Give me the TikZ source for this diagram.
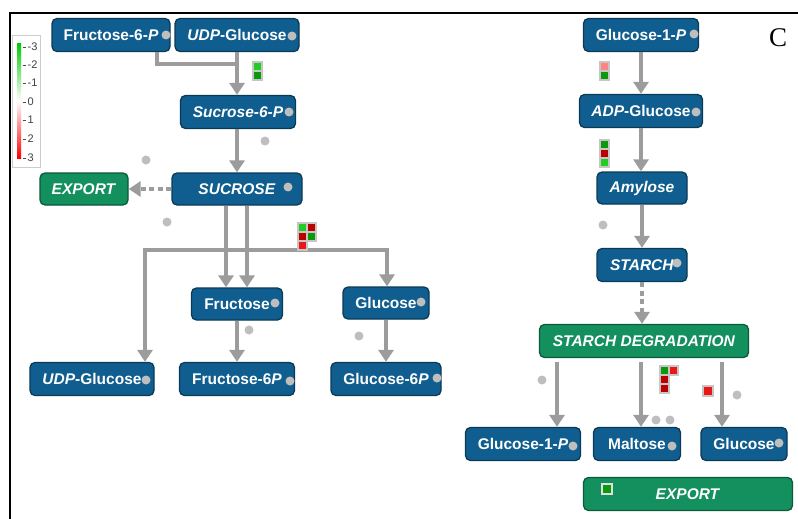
\documentclass[tikz,border=0pt]{standalone}
\usepackage{fontspec}
\newfontfamily\lib{Liberation Sans}
\setmainfont{Liberation Serif}
\usetikzlibrary{arrows.meta}
\definecolor{nblue}{HTML}{0F5E8F}
\definecolor{nblueb}{HTML}{0B3A57}
\definecolor{ngreen}{HTML}{13905E}
\definecolor{ngreenb}{HTML}{0B5A3A}
\definecolor{lgray}{HTML}{9C9C9C}
\definecolor{dgray}{HTML}{BEBEBE}
\definecolor{hgA}{HTML}{22CC22}
\definecolor{hgB}{HTML}{0A990A}
\definecolor{hrA}{HTML}{EE1515}
\definecolor{hrB}{HTML}{BB0000}
\definecolor{hpk}{HTML}{FF8585}
\tikzset{
  met/.style={draw=nblueb, fill=nblue, line width=1.3pt, rounded corners=5pt, inner sep=0pt,
    text=white, font=\lib\bfseries\fontsize{15.5}{18}\selectfont, minimum height=33pt},
  grn/.style={met, draw=ngreenb, fill=ngreen},
  ln/.style={draw=lgray, line width=4.5pt},
  arr/.style={ln, -{Triangle[length=12pt,width=15pt,fill=lgray]}},
  dsh/.style={arr, dash pattern=on 5pt off 3.5pt},
  dotc/.style={circle, fill=dgray, inner sep=0pt, minimum size=9pt},
  hm/.style={fill=#1, draw=gray!45, line width=1.3pt},
  lab/.style={font=\lib\fontsize{11}{13}\selectfont, text=black!75, anchor=west, inner sep=0pt}
}
\begin{document}
\begin{tikzpicture}[x=1pt,y=-1pt]
\useasboundingbox (0,0) rectangle (798,519);
\fill[white] (0,0) rectangle (798,519);
% frame
\draw[line width=2.5pt] (10,519) -- (10,13) -- (798,13);
\node[font=\fontsize{27}{30}\selectfont] (C) at (778,38) {C};
% legend
\draw[gray!40, line width=0.8pt] (12,35) rectangle (40,167);
\shade[top color=green!80!black, bottom color=white] (17,44) rectangle (21,101);
\shade[top color=white, bottom color=red] (17,101) rectangle (21,158);
\foreach \yy/\tt in {47/-3,65/-2,83/-1,102/0,120/1,139/2,158/3}{
  \draw[black!70, line width=0.8pt] (22.5,\yy) -- (25.5,\yy);
  \node[lab] at (27.5,\yy) {\tt};
}
% left nodes
\node[met, minimum width=118pt] (f6pa) at (111,35) {Fructose-6-\textit{P}\hspace{6pt}};
\node[met, minimum width=124pt] (udpa) at (237,35) {\textit{UDP}-Glucose\hspace{6pt}};
\node[met, minimum width=115pt] (s6p) at (238,112) {\textit{Sucrose-6-P}\hspace{6pt}};
\node[met, minimum width=130pt, minimum height=32pt] (suc) at (237,189) {\textit{SUCROSE}\hspace{12pt}};
\node[grn, minimum width=88pt, minimum height=32pt] (exl) at (84,189) {\textit{EXPORT}};
\node[met, minimum width=91pt, minimum height=32pt] (fru) at (237,304) {Fructose\hspace{5pt}};
\node[met, minimum width=86pt, minimum height=32pt] (glcl) at (386,303) {Glucose\hspace{5pt}};
\node[met, minimum width=124pt] (udpb) at (92,379) {\textit{UDP}-Glucose\hspace{6pt}};
\node[met, minimum width=115pt] (f6pb) at (237,379) {Fructose-6\textit{P}\hspace{8pt}};
\node[met, minimum width=110pt] (g6p) at (386,379) {Glucose-6\textit{P}\hspace{8pt}};
% right nodes
\node[met, minimum width=115pt] (g1pa) at (641,35) {Glucose-1-\textit{P}\hspace{6pt}};
\node[met, minimum width=123pt] (adp) at (641,111) {\textit{ADP}-Glucose\hspace{6pt}};
\node[met, minimum width=90pt, minimum height=32pt] (amy) at (642,188) {\textit{Amylose}};
\node[met, minimum width=90pt] (sta) at (642,265) {\textit{STARCH}\hspace{4pt}};
\node[grn, minimum width=209pt] (sd) at (644,341) {\textit{STARCH DEGRADATION}};
\node[met, minimum width=115pt] (g1pb) at (523,444) {Glucose-1-\textit{P}\hspace{6pt}};
\node[met, minimum width=87pt] (mal) at (637,444) {Maltose\hspace{10pt}};
\node[met, minimum width=86pt] (glcr) at (744,444) {Glucose\hspace{5pt}};
\node[grn, minimum width=209pt] (exr) at (688,494) {\textit{EXPORT}};
% connectors left
\coordinate (jf) at (157,64);
\draw[ln] (f6pa.south -| jf) -- (jf) -- (jf -| udpa.south);
\draw[arr] (udpa.south) -- (s6p.north -| udpa.south);
\draw[arr] (s6p.south -| suc.north) -- (suc.north);
\draw[dsh] (suc.west) -- (exl.east);
\coordinate (ja) at (145,250);
\coordinate (jb) at (387,250);
\draw[ln] (ja) -- (jb);
\draw[arr] ([yshift=2.25pt]ja) -- (udpb.north -| ja);
\draw[arr] ([yshift=2.25pt]jb) -- (glcl.north -| jb);
\draw[arr] ([xshift=-11pt]suc.south) -- ([xshift=-11pt]fru.north);
\draw[arr] ([xshift=10pt]suc.south) -- ([xshift=10pt]fru.north);
\draw[arr] (fru.south) -- (f6pb.north -| fru.south);
\draw[arr] (glcl.south) -- (g6p.north -| glcl.south);
% connectors right
\draw[arr] (g1pa.south) -- (adp.north -| g1pa.south);
\draw[arr] (adp.south) -- (amy.north -| adp.south);
\draw[arr] (amy.south) -- (sta.north);
\draw[dsh] (sta.south) -- (sd.north -| sta.south);
\coordinate (s1) at (557,362);
\coordinate (s2) at (641,362);
\coordinate (s3) at (722,362);
\draw[arr] (s1) -- (g1pb.north -| s1);
\draw[arr] (s2) -- (mal.north -| s2);
\draw[arr] (s3) -- (glcr.north -| s3);
% dots in nodes
\foreach \p in {(166,35),(292,36),(289,112),(288,187),(275,303),(421,302),(146,380),(290,381),(437,378),
  (694,34),(696,112),(677,263),(573,446),(672,446),(779,443)}{\node[dotc] at \p {};}
% free dots
\foreach \p in {(265,141),(146,160),(167,222),(249,330),(359,336),(603,225),(542,380),(656,420),(670,420),(737,395)}{\node[dotc] at \p {};}
% heat maps
\draw[hm=hgA] (253,62) rectangle ++(9,9);
\draw[hm=hgB] (253,71) rectangle ++(9,9);
\draw[hm=hgA] (298,223) rectangle ++(9,9);
\draw[hm=hrB] (307,223) rectangle ++(9,9);
\draw[hm=hrB] (298,232) rectangle ++(9,9);
\draw[hm=hgB] (307,232) rectangle ++(9,9);
\draw[hm=hrA] (298,241) rectangle ++(9,9);
\draw[hm=hpk] (600,62) rectangle ++(9,9);
\draw[hm=hgB] (600,71) rectangle ++(9,9);
\draw[hm=hgB] (600,140) rectangle ++(9,9);
\draw[hm=hrB] (600,149) rectangle ++(9,9);
\draw[hm=hgA] (600,158) rectangle ++(9,9);
\draw[hm=hgB] (660,366) rectangle ++(9,9);
\draw[hm=hrA] (669,366) rectangle ++(9,9);
\draw[hm=hrB] (660,375) rectangle ++(9,9);
\draw[hm=hrB] (660,384) rectangle ++(9,9);
\draw[hm=hrA] (703,386) rectangle ++(10,10);
\draw[hm=hgB, draw=gray!25] (602,484) rectangle ++(10,10);
\end{tikzpicture}
\end{document}
